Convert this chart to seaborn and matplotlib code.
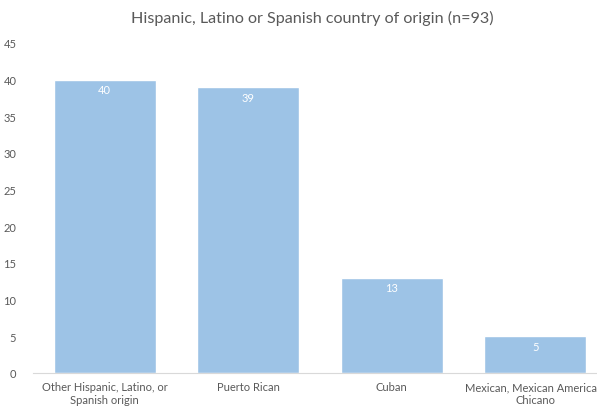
import matplotlib
matplotlib.use("Agg")
import matplotlib.pyplot as plt
import seaborn as sns
import pandas as pd

categories = ["Other Hispanic, Latino, or\nSpanish origin", "Puerto Rican", "Cuban",
              "Mexican, Mexican American,\nChicano"]
counts = [40, 39, 13, 5]
y_ticks = [0, 5, 10, 15, 20, 25, 30, 35, 40, 45]
title = "Hispanic, Latino or Spanish country of origin (n=93)"

sns.set_style("white")
plt.rcParams["font.family"] = ["Lato", "DejaVu Sans"]

df = pd.DataFrame({"origin": categories, "count": counts})

fig = plt.figure(figsize=(5.97, 4.10), dpi=100)
# axes runs a bit past the right edge, like the cropped original
ax = fig.add_axes([33 / 597, 36 / 410, (607 - 33) / 597, 330 / 410])
sns.barplot(data=df, x="origin", y="count", color="#9DC3E6", width=0.71,
            saturation=1, ax=ax)

ax.set_ylim(0, 45)
ax.set_yticks(y_ticks)
ax.set_yticklabels([str(t) for t in y_ticks])
ax.set_xlabel("")
ax.set_ylabel("")
ax.tick_params(axis="both", length=0, labelsize=8, colors="#595959")
ax.tick_params(axis="y", pad=12)
ax.tick_params(axis="x", pad=6)
for s in ["left", "right", "top"]:
    ax.spines[s].set_visible(False)
ax.spines["bottom"].set_color("#D9D9D9")

for p, v in zip(ax.patches, counts):
    ax.text(p.get_x() + p.get_width() / 2, v - 1.4, str(v), ha="center", va="center",
            color="white", fontsize=8)

fig.text(312 / 597, 1 - 18 / 410, title, ha="center", va="center", fontsize=11.6,
         color="#595959")

fig.savefig("out.png", dpi=100)
